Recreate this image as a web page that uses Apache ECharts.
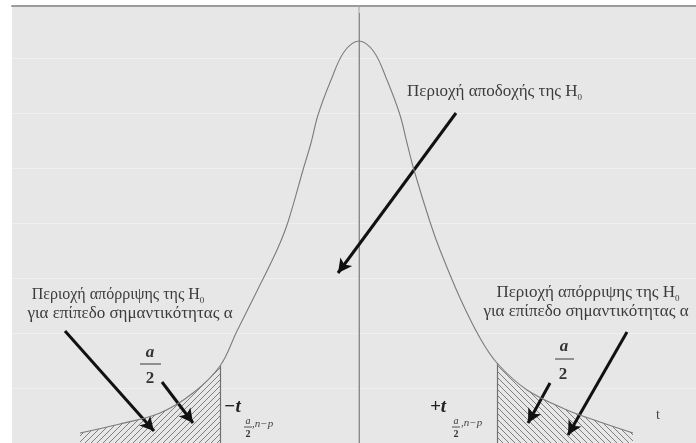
<!DOCTYPE html>
<html>
<head>
<meta charset="utf-8">
<script src="https://cdn.jsdelivr.net/npm/echarts@6/dist/echarts.min.js"></script>
<style>
html,body{margin:0;padding:0;background:#fff;}
#chart{width:696px;height:443px;}
</style>
</head>
<body>
<div id="chart"></div>
<script>
// density curve (t, height above the cut-off bottom)
const curveT = [-2.79, -2.39, -1.99, -1.66, -1.39, -1.22, -1.02, -0.82, -0.71, -0.56, -0.48, -0.41, -0.28, -0.15, 0,
                0.15, 0.28, 0.41, 0.48, 0.55, 0.71, 0.81, 1.01, 1.21, 1.38, 1.68, 2.08, 2.41, 2.74];
const curveV = [0.10, 0.19, 0.30, 0.50, 0.77, 1.12, 1.52, 1.93, 2.21, 2.73, 3.00, 3.28, 3.63, 3.91, 4.02,
                3.91, 3.63, 3.28, 3.00, 2.73, 2.21, 1.93, 1.45, 1.05, 0.80, 0.53, 0.33, 0.21, 0.10];
const critLeft = -1.39;
const critRight = 1.38;

const pts = curveT.map((t, i) => [t, curveV[i]]);
const leftTail = pts.filter(p => p[0] <= critLeft);
const rightTail = pts.filter(p => p[0] >= critRight);
const critLeftV = leftTail[leftTail.length - 1][1];
const critRightV = rightTail[0][1];

// annotation arrows in data coords: [fromT, fromV, toT, toV]
const arrows = [
  [0.97, 3.30, -0.21, 1.70],
  [-2.94, 1.12, -2.05, 0.12],
  [-1.97, 0.61, -1.66, 0.20],
  [1.91, 0.60, 1.69, 0.20],
  [2.68, 1.11, 2.09, 0.08]
];

function hatch(dir) {
  const c = document.createElement('canvas');
  c.width = 6; c.height = 6;
  const g = c.getContext('2d');
  g.strokeStyle = '#808080';
  g.lineWidth = 1;
  g.beginPath();
  if (dir > 0) {
    g.moveTo(-1, 7); g.lineTo(7, -1);
    g.moveTo(-1, 1); g.lineTo(1, -1);
    g.moveTo(5, 7); g.lineTo(7, 5);
  } else {
    g.moveTo(-1, -1); g.lineTo(7, 7);
    g.moveTo(5, -1); g.lineTo(7, 1);
    g.moveTo(-1, 5); g.lineTo(1, 7);
  }
  g.stroke();
  return c;
}

const serif = '"Liberation Serif", "DejaVu Serif", serif';
const txtColor = '#3c3c3c';

function label(x, y, text, opt) {
  return {
    type: 'text', x: x, y: y, z: 100,
    style: Object.assign({
      text: text, fontFamily: serif, fontSize: 17, fill: txtColor,
      align: 'left', verticalAlign: 'middle'
    }, opt || {})
  };
}
function h0(x, y, text, align, size) {
  return {
    type: 'text', x: x, y: y, z: 100,
    style: {
      text: '{m|' + text + '}{s|0}',
      align: align, verticalAlign: 'middle',
      rich: {
        m: { fontFamily: serif, fontSize: size || 17, fill: txtColor, lineHeight: 20 },
        s: { fontFamily: serif, fontSize: 9, fill: txtColor, lineHeight: 10, verticalAlign: 'bottom' }
      }
    }
  };
}
function bar(x1, x2, y, w) {
  return { type: 'line', z: 100, shape: { x1: x1, y1: y, x2: x2, y2: y }, style: { stroke: '#555', lineWidth: w || 1 } };
}

const arrowLines = arrows.map(a => [
  { coord: [a[0], a[1]], symbol: 'none', lineStyle: { color: '#111', width: 3, type: 'solid' } },
  { coord: [a[2], a[3]], symbol: 'arrow', symbolSize: [11, 14], itemStyle: { color: '#111' } }
]);

const chart = echarts.init(document.getElementById('chart'));
chart.setOption({
  animation: false,
  backgroundColor: '#fff',
  grid: { left: 12, top: 6, right: 0, bottom: 0, show: true, backgroundColor: '#e7e7e7', borderWidth: 0 },
  xAxis: {
    type: 'value', min: -3.47, max: 3.37, position: 'top',
    axisLine: { show: true, onZero: false, lineStyle: { color: '#9c9c9c', width: 2 } },
    axisTick: { show: false }, axisLabel: { show: false }, splitLine: { show: false }
  },
  yAxis: {
    type: 'value', min: 0, max: 4.37, interval: 0.55,
    axisLine: { show: true, lineStyle: { color: '#b8b8b8', width: 1.5 } },
    axisTick: { show: false }, axisLabel: { show: false },
    splitLine: { show: true, lineStyle: { color: '#efefef', width: 1 } }
  },
  series: [
    {
      type: 'line', data: leftTail, smooth: 0.35, showSymbol: false, symbol: 'none',
      lineStyle: { width: 0 }, areaStyle: { color: { image: hatch(1), repeat: 'repeat' }, opacity: 1 },
      silent: true,
      markLine: {
        silent: true, symbol: 'none', label: { show: false },
        lineStyle: { color: '#707070', width: 1.2, type: 'solid' },
        data: [[{ coord: [critLeft, 0] }, { coord: [critLeft, critLeftV] }]]
      }
    },
    {
      type: 'line', data: rightTail, smooth: 0.35, showSymbol: false, symbol: 'none',
      lineStyle: { width: 0 }, areaStyle: { color: { image: hatch(-1), repeat: 'repeat' }, opacity: 1 },
      silent: true,
      markLine: {
        silent: true, symbol: 'none', label: { show: false },
        lineStyle: { color: '#707070', width: 1.2, type: 'solid' },
        data: [[{ coord: [critRight, 0] }, { coord: [critRight, critRightV] }]]
      }
    },
    {
      type: 'line', data: pts, smooth: 0.35, showSymbol: false, symbol: 'none',
      lineStyle: { color: '#7c7c7c', width: 1.1 }, silent: true, z: 5,
      markLine: {
        silent: true, label: { show: false }, symbol: 'none',
        data: [
          [{ coord: [0, 0], lineStyle: { color: '#8a8a8a', width: 1, type: 'solid' } },
           { coord: [0, 4.30] }]
        ].concat(arrowLines)
      }
    }
  ],
  graphic: [
    h0(407, 92, 'Περιοχή αποδοχής της H', 'left'),
    h0(118, 295, 'Περιοχή απόρριψης της H', 'center', 16),
    label(130, 314, 'για επίπεδο σημαντικότητας α', { align: 'center' }),
    h0(588, 293, 'Περιοχή απόρριψης της H', 'center'),
    label(586, 312, 'για επίπεδο σημαντικότητας α', { align: 'center' }),
    // a/2 fractions
    label(150, 353, 'a', { align: 'center', fontStyle: 'italic', fontWeight: 'bold', fontSize: 17, fill: '#333' }),
    bar(140, 161, 364, 1.2),
    label(150, 379, '2', { align: 'center', fontWeight: 'bold', fontSize: 17, fill: '#333' }),
    label(564, 347, 'a', { align: 'center', fontStyle: 'italic', fontWeight: 'bold', fontSize: 17, fill: '#333' }),
    bar(555, 574, 359, 1.2),
    label(563, 375, '2', { align: 'center', fontWeight: 'bold', fontSize: 17, fill: '#333' }),
    // critical values
    label(224, 407, '−t', { fontStyle: 'italic', fontWeight: 'bold', fontSize: 19, fill: '#222' }),
    label(248, 421, 'a', { align: 'center', fontStyle: 'italic', fontSize: 10, fill: '#333' }),
    bar(244, 252, 427, 1),
    label(248, 434, '2', { align: 'center', fontWeight: 'bold', fontSize: 10, fill: '#333' }),
    label(252, 424, ',n−p', { fontStyle: 'italic', fontSize: 11, fill: '#444' }),
    label(430, 407, '+t', { fontStyle: 'italic', fontWeight: 'bold', fontSize: 19, fill: '#222' }),
    label(456, 421, 'a', { align: 'center', fontStyle: 'italic', fontSize: 10, fill: '#333' }),
    bar(452, 460, 427, 1),
    label(456, 434, '2', { align: 'center', fontWeight: 'bold', fontSize: 10, fill: '#333' }),
    label(461, 423, ',n−p', { fontStyle: 'italic', fontSize: 11, fill: '#444' }),
    label(658, 415, 't', { align: 'center', fontSize: 14, fill: '#444' })
  ]
});
</script>
</body>
</html>
